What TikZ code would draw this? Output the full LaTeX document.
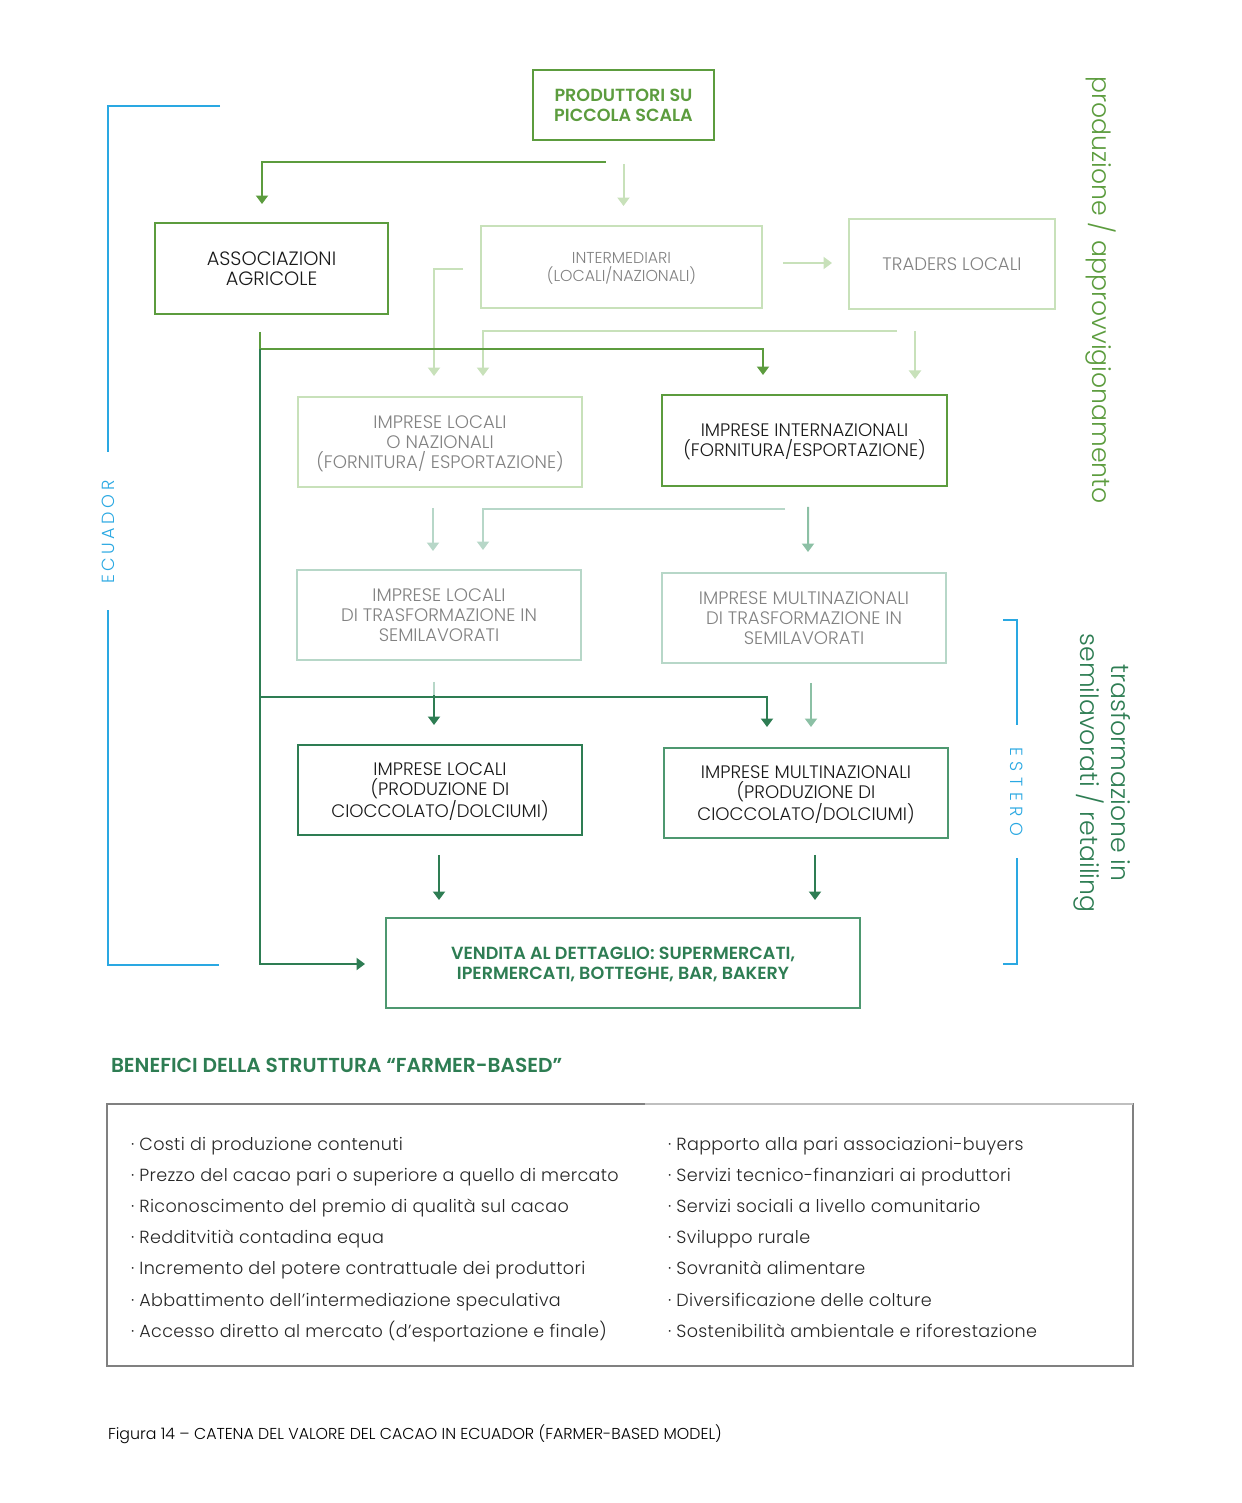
\documentclass[tikz,border=0pt]{standalone}
\usepackage{fontspec}
\IfFontExistsTF{Poppins Light}
	{\IfFontExistsTF{Poppins SemiBold}
		{\setmainfont{Poppins Light}[BoldFont={Poppins SemiBold}]}
		{\setmainfont{Poppins Light}}}
	{\setmainfont{Poppins}}
\usepackage{xcolor}
\definecolor{verde}{RGB}{92,156,62}
\definecolor{verdechiaro}{RGB}{200,225,186}
\definecolor{acqua}{RGB}{183,215,200}
\definecolor{acquamedio}{RGB}{140,192,165}
\definecolor{verdemedio}{RGB}{78,152,112}
\definecolor{verdescuro}{RGB}{46,125,83}
\definecolor{grigio}{RGB}{130,130,130}
\definecolor{celeste}{RGB}{42,168,226}
\usetikzlibrary{arrows.meta, positioning, calc}

\begin{document}
\begin{tikzpicture}[x=0.02cm, y=-0.02cm, line width=0.04cm,
		> = {Triangle[width=0.24cm, length=0.17cm]},
		casella/.style={draw, align=center, inner sep=0pt, text depth=0pt, text=black!90, font=\fontsize{10.3}{11.3}\selectfont},
		tenue/.style={casella, draw=verdechiaro, text=grigio},
		voce/.style={anchor=base west, inner sep=0pt, font=\fontsize{10}{12}\selectfont\addfontfeature{LetterSpace=2}, text=black!85}]
	\useasboundingbox (0,0) rectangle (1241,1503);
	
	% caselle della catena
	\node [casella, draw=verde, text=verde, font=\fontsize{10}{11.3}\selectfont\bfseries, minimum width=3.62cm, minimum height=1.4cm] (prod) at (623.5,105) {PRODUTTORI SU\\PICCOLA SCALA};
	\node [casella, draw=verde, font=\fontsize{11}{11.5}\selectfont, minimum width=4.66cm, minimum height=1.82cm] (assoc) at (271.5,268.5) {ASSOCIAZIONI\\AGRICOLE};
	\node [tenue, font=\fontsize{9}{10.2}\selectfont, minimum width=5.62cm, minimum height=1.64cm] (interm) at (621.5,267) {INTERMEDIARI\\(LOCALI/NAZIONALI)};
	\node [tenue, minimum width=4.12cm, minimum height=1.8cm] (traders) at (952,264) {TRADERS LOCALI};
	\node [tenue, minimum width=5.68cm, minimum height=1.8cm] (locnaz) at (440,442) {IMPRESE LOCALI\\O NAZIONALI\\(FORNITURA/ ESPORTAZIONE)};
	\node [casella, draw=verde, minimum width=5.7cm, minimum height=1.82cm] (intern) at (804.5,440.5) {IMPRESE INTERNAZIONALI\\(FORNITURA/ESPORTAZIONE)};
	\node [tenue, draw=acqua, minimum width=5.68cm, minimum height=1.8cm] (loctrasf) at (439,615) {IMPRESE LOCALI\\DI TRASFORMAZIONE IN\\SEMILAVORATI};
	\node [tenue, draw=acqua, minimum width=5.68cm, minimum height=1.8cm] (multitrasf) at (804,618) {IMPRESE MULTINAZIONALI\\DI TRASFORMAZIONE IN\\SEMILAVORATI};
	\node [casella, draw=verdescuro, minimum width=5.68cm, minimum height=1.8cm] (locprod) at (440,790) {IMPRESE LOCALI\\(PRODUZIONE DI\\CIOCCOLATO/DOLCIUMI)};
	\node [casella, draw=verdemedio, minimum width=5.68cm, minimum height=1.8cm] (multiprod) at (806,793) {IMPRESE MULTINAZIONALI\\(PRODUZIONE DI\\CIOCCOLATO/DOLCIUMI)};
	\node [casella, draw=verdemedio, text=verdescuro, font=\fontsize{10}{11.3}\selectfont\bfseries, minimum width=9.48cm, minimum height=1.8cm] (vendita) at (623,963) {VENDITA AL DETTAGLIO: SUPERMERCATI,\\IPERMERCATI, BOTTEGHE, BAR, BAKERY};
	
	% frecce tenui
	\draw [->, verdechiaro] ($(prod.south)+(0,23)$) -- ($(interm.north)+(2,-19)$);
	\draw [->, verdechiaro] ($(interm.east)+(20,-4)$) -- ($(traders.west)+(-16,-1)$);
	\draw [->, verdechiaro] ($(interm.west)+(-17,2)$) -| ($(locnaz.north)+(-6,-20)$);
	\draw [->, verdechiaro] ($(traders.south)+(-55,21)$) -| ($(locnaz.north)+(43,-20)$);
	\draw [->, verdechiaro] ($(traders.south)+(-37,21)$) -- ($(traders.south)+(-37,69)$);
	\draw [->, acqua] ($(locnaz.south)+(-7,20)$) -- ($(loctrasf.north)+(-6,-18)$);
	\draw [->, acqua] ($(intern.south)+(-19.5,22)$) -| ($(loctrasf.north)+(44,-19)$);
	\draw [->, acquamedio] ($(intern.south)+(3.5,20)$) -- ($(multitrasf.north)+(4,-20)$);
	\draw [acqua] ($(loctrasf.south)+(-5,21)$) -- ($(loctrasf.south)+(-5,36)$);
	\draw [->, acquamedio] ($(multitrasf.south)+(7,19)$) -- ($(multiprod.north)+(5,-20)$);
	
	% frecce principali
	\draw [->, verde] ($(prod.south)+(-18,21)$) -| ($(assoc.north)+(-9.5,-18)$);
	\coordinate (tronco) at ($(assoc.south)+(-11.5,17)$);
	\draw [->, verde] (tronco) -- ++(0,17) -| ($(intern.north)+(-41.5,-19)$);
	\draw [->, verdescuro] ($(tronco)+(0,17)$) |- ($(vendita.west)+(-20,1)$);
	\draw [->, verdescuro] ($(tronco)+(0,365)$) -| ($(multiprod.north)+(-39,-20)$);
	\draw [->, verdescuro] ($(locprod.north)+(-6,-49)$) -- ($(locprod.north)+(-6,-19)$);
	\draw [->, verdescuro] ($(locprod.south)+(-1,19)$) -- ($(vendita.north)+(-184,-17)$);
	\draw [->, verdescuro] ($(multiprod.south)+(9,16)$) -- ($(vendita.north)+(192,-17)$);
	
	% ambiti
	\draw [celeste, line width=0.03cm] (220,106) -| (108,452);
	\node [rotate=90, text=celeste, font=\fontsize{10}{12}\selectfont\addfontfeature{LetterSpace=20}] (ecuador) at (108,532) {ECUADOR};
	\draw [celeste, line width=0.03cm] (108,610) |- (219,965);
	\draw [celeste, line width=0.03cm] (1003,620) -| (1017,725);
	\node [rotate=-90, text=celeste, font=\fontsize{10}{12}\selectfont\addfontfeature{LetterSpace=32}] (estero) at (1017,792) {ESTERO};
	\draw [celeste, line width=0.03cm] (1017,858) |- (1003,964);
	
	\node [rotate=-90, text=verde, font=\fontsize{14.3}{18}\selectfont] (fase1) at (1101,290) {produzione / approvvigionamento};
	\node [rotate=-90, text=verdescuro, align=center, font=\fontsize{14.3}{18}\selectfont] (fase2) at (1102,773) {trasformazione in\\semilavorati / retailing};
	
	% benefici
	\node [anchor=base west, inner sep=0pt, text=verdescuro, font=\fontsize{11.5}{13}\selectfont\bfseries] (titolo) at (110,1072) {BENEFICI DELLA STRUTTURA “FARMER-BASED”};
	\draw [black!50, line width=0.03cm] (107,1104) rectangle (1133,1366);
	\draw [black!25, line width=0.03cm] (645,1104) -- (1133,1104);
	\foreach \testo [count=\i] in {Costi di produzione contenuti, Prezzo del cacao pari o superiore a quello di mercato, Riconoscimento del premio di qualità sul cacao, Redditvitià contadina equa, Incremento del potere contrattuale dei produttori, Abbattimento dell’intermediazione speculativa, Accesso diretto al mercato (d’esportazione e finale)}
		\node [voce] at (130,{1150+31.2*(\i-1)}) {· \testo};
	\foreach \testo [count=\i] in {Rapporto alla pari associazioni-buyers, Servizi tecnico-finanziari ai produttori, Servizi sociali a livello comunitario, Sviluppo rurale, Sovranità alimentare, Diversificazione delle colture, Sostenibilità ambientale e riforestazione}
		\node [voce] at (667,{1150+31.2*(\i-1)}) {· \testo};
	
	\node [anchor=base west, inner sep=0pt, font=\fontsize{9}{10}\selectfont] (didascalia) at (107,1439) {Figura 14 – CATENA DEL VALORE DEL CACAO IN ECUADOR (FARMER-BASED MODEL)};
\end{tikzpicture}
\end{document}
